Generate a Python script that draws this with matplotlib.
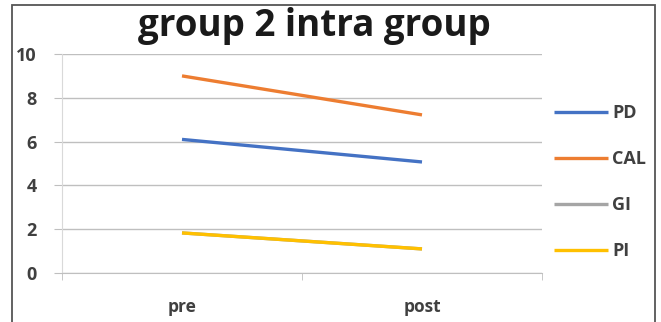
import matplotlib.pyplot as plt
from matplotlib.patches import Rectangle

# Mean scores before and after treatment
stages = ['pre', 'post']
pd_vals = [6.1, 5.07]
cal_vals = [9.0, 7.22]
gi_vals = [1.83, 1.1]
pi_vals = [1.83, 1.1]

series = ['PD', 'CAL', 'GI', 'PI']
values = [pd_vals, cal_vals, gi_vals, pi_vals]
colors = ['#4472C4', '#ED7D31', '#A5A5A5', '#FFC000']

plt.rcParams['font.family'] = ['Open Sans', 'DejaVu Sans']

W, H = 661, 322
fig = plt.figure(figsize=(W / 100, H / 100), dpi=100)
ax = fig.add_axes([62 / W, 1 - 273 / H, (542 - 62) / W, (273 - 54) / H])

x = range(len(stages))
for name, vals, c in zip(series, values, colors):
    ax.plot(x, vals, color=c, lw=2.4, label=name, solid_capstyle='butt')

ax.set_xlim(-0.5, len(stages) - 0.5)
ax.set_ylim(0, 10)
ax.set_yticks(range(0, 11, 2))
ax.set_xticks(list(x))
ax.set_xticklabels(stages, fontsize=12.5, fontweight='bold', color='#404040')
ax.set_yticklabels([str(v) for v in range(0, 11, 2)], fontsize=13,
                   fontweight='bold', color='#404040')
ax.tick_params(axis='x', length=0, pad=18)
ax.tick_params(axis='y', length=6, color='#BFBFBF', pad=12)

# category boundary ticks below the x axis
ax.set_xticks([-0.5, 0.5, 1.5], minor=True)
ax.tick_params(axis='x', which='minor', length=5, color='#BFBFBF', direction='out')

ax.yaxis.grid(True, color='#BFBFBF', lw=1)
ax.set_axisbelow(True)
for s in ['top', 'right']:
    ax.spines[s].set_visible(False)
ax.spines['left'].set_color('#D9D9D9')
ax.spines['bottom'].set_color('#BFBFBF')

fig.text(314 / W, 1 - 26 / H, 'group 2 intra group', ha='center', va='center',
         fontsize=26.5, fontweight='bold', color='#1a1a1a')

leg = fig.legend(loc='center left', bbox_to_anchor=(538 / W, 1 - 182 / H),
                 frameon=False, fontsize=13, handlelength=3.0,
                 labelspacing=1.55, handletextpad=0.2)
for t in leg.get_texts():
    t.set_fontweight('bold')
    t.set_color('#404040')

# outer frame
fig.patches.append(Rectangle((11.5 / W, -0.05), (655 - 11.5) / W, 1.05 - 4.5 / H,
                             transform=fig.transFigure, fill=False,
                             edgecolor='#555555', lw=1.3))

fig.savefig('out.png', dpi=100)
